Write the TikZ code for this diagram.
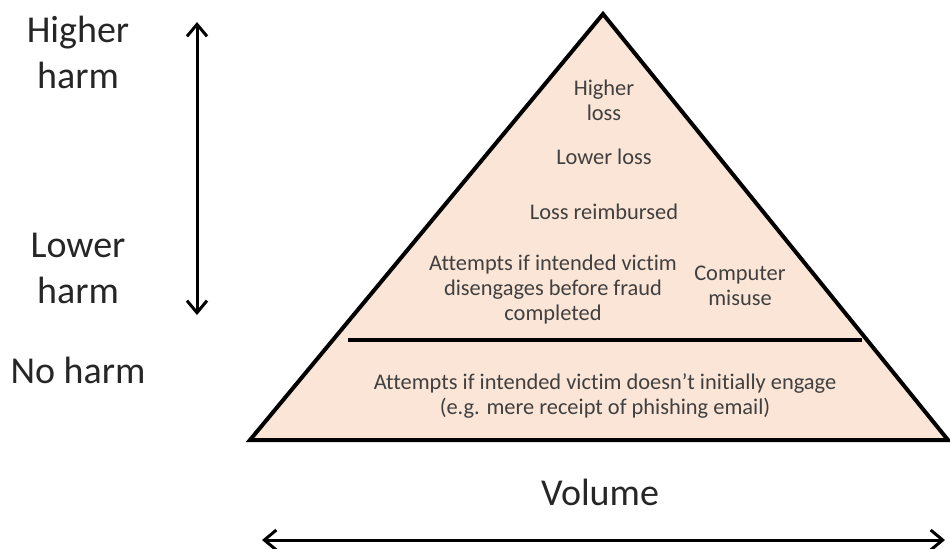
\documentclass[tikz,border=0pt]{standalone}
\usepackage{fontspec}
\setmainfont{Carlito}[Ligatures=NoCommon]
\usepackage{xcolor}
\usepackage{tikz}
\usetikzlibrary{arrows.meta,positioning,calc}

\definecolor{peach}{HTML}{FBE5D6}
\definecolor{inktext}{HTML}{404040}

\tikzset{
  pyramid/.style={fill=peach,draw=black,line width=2pt,line join=miter},
  divider/.style={draw=black,line width=1.6pt},
  axislabel/.style={align=center,text=black!85,font=\fontsize{19}{23}\selectfont,inner sep=0pt},
  tierlabel/.style={align=center,text=inktext,font=\fontsize{11.2}{12.5}\selectfont,inner sep=0pt},
  axisarrow/.style={line width=1.5pt,{Straight Barb[length=6pt,width=10pt]}-{Straight Barb[length=6pt,width=10pt]}}
}

\begin{document}
\begin{tikzpicture}[x=0.5pt,y=-0.5pt]
  \useasboundingbox (0,0) rectangle (950,548);

  % pyramid outline
  \coordinate (apex) at (603,14);
  \coordinate (baseL) at (250,440);
  \coordinate (baseR) at (948,440);
  \filldraw[pyramid] (apex) -- (baseL) -- (baseR) -- cycle;

  % split between harm and no harm
  \coordinate (divL) at (348,340);
  \coordinate (divR) at (862,340);
  \draw[divider] (divL) -- (divR);

  % tiers
  \node[tierlabel] (highloss) at (604,100) {Higher\\loss};
  \node[tierlabel] (lowloss) at (604,157) {Lower loss};
  \node[tierlabel] (reimb) at (604,212) {Loss reimbursed};
  \node[tierlabel] (diseng) at (553,290) {Attempts if intended victim\\disengages before fraud\\completed};
  \node[tierlabel] (misuse) at (740,286) {Computer\\misuse};
  \node[tierlabel] (noengage) at (605,396) {Attempts if intended victim doesn’t initially engage\\(e.g. mere receipt of phishing email)};

  % harm axis
  \node[axislabel] (higher) at (78,52) {Higher\\harm};
  \node[axislabel] (lower) at (78,268) {Lower\\harm};
  \node[axislabel] (noharm) at (78,370) {No harm};
  \coordinate (harmTop) at (197,22);
  \coordinate (harmBot) at (197,315);
  \draw[axisarrow] (harmTop) -- (harmBot);

  % volume axis
  \node[axislabel] (volume) at (600,492) {Volume};
  \coordinate (volL) at (262,540);
  \coordinate (volR) at (945,540);
  \draw[axisarrow] (volL) -- (volR);
\end{tikzpicture}
\end{document}
